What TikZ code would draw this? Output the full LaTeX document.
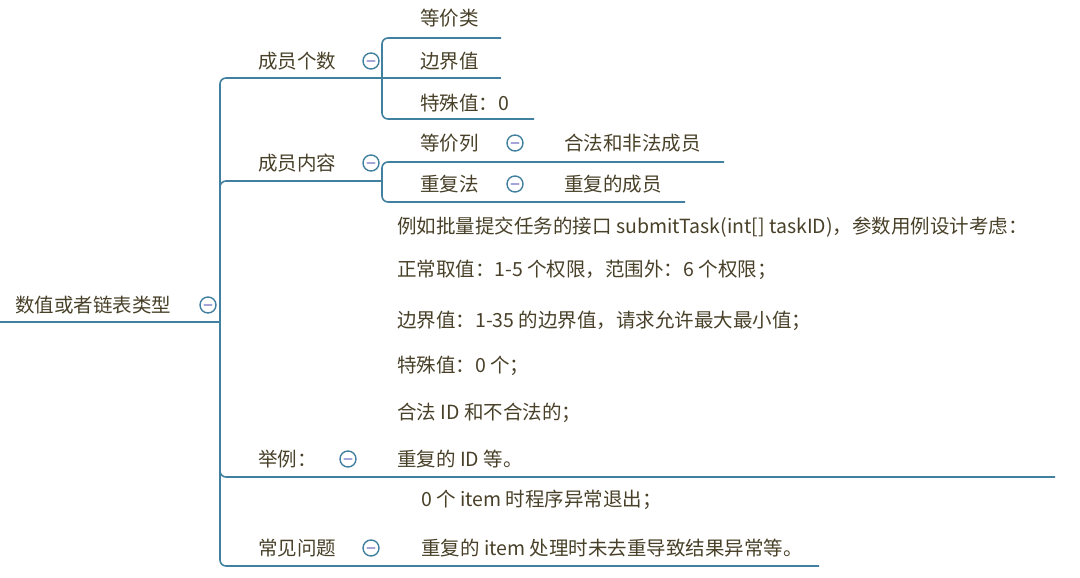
\documentclass[tikz,border=0pt]{standalone}
\usepackage{fontspec}
\setmainfont{Noto Sans CJK SC}
\usepackage{tikz}
\usetikzlibrary{positioning}
\definecolor{branchblue}{RGB}{66,128,160}
\definecolor{inkbrown}{RGB}{72,64,40}
\definecolor{minuslav}{RGB}{165,165,215}

\begin{document}
\begin{tikzpicture}[x=1pt, y=-1pt]
    \tikzstyle{topic} = [anchor=west, inner sep=0pt, text=inkbrown, font=\fontsize{19.5}{23}\selectfont]
    \tikzstyle{branch} = [draw=branchblue, line width=1.6pt, rounded corners=6pt]
    \tikzstyle{fold} = [circle, draw=branchblue, fill=white, line width=1.4pt, minimum size=16pt, inner sep=0pt,
        path picture={\draw[minuslav, line width=2.2pt, line cap=round]
            ([xshift=-3.5pt]path picture bounding box.center) -- ([xshift=3.5pt]path picture bounding box.center);}]

    \useasboundingbox (0,0) rectangle (1080,578);

    % root
    \node [topic] (root) at (15,305) {数值或者链表类型};
    \coordinate (rootstart) at (0,322);
    \coordinate (spine) at (220,322);

    % member count
    \node [topic] (count) at (258,61) {成员个数};
    \coordinate (countjoin) at (382,78);
    \node [topic] (eqclass) at (420,18) {等价类};
    \node [topic] (bound) at (420,61) {边界值};
    \node [topic] (special) at (420,103) {特殊值：0};
    \coordinate (eqclassend) at (501,38);
    \coordinate (boundend) at (501,78);
    \coordinate (specialend) at (534,119);

    % member content
    \node [topic] (content) at (258,163) {成员内容};
    \coordinate (contentjoin) at (382,181);
    \node [topic] (eqcol) at (420,143) {等价列};
    \node [topic] (legal) at (564,143) {合法和非法成员};
    \node [topic] (dup) at (420,184) {重复法};
    \node [topic] (dupmember) at (564,184) {重复的成员};
    \coordinate (eqcolend) at (724,162);
    \coordinate (dupend) at (685,202);

    % example
    \node [topic] (sample) at (258,459) {举例：};
    \node [topic] (ex1) at (397,227) {例如批量提交任务的接口 submitTask(int[] taskID)，参数用例设计考虑：};
    \node [topic] (ex2) at (397,270) {正常取值：1-5 个权限，范围外：6 个权限；};
    \node [topic] (ex3) at (397,321) {边界值：1-35 的边界值，请求允许最大最小值；};
    \node [topic] (ex4) at (397,366) {特殊值：0 个；};
    \node [topic] (ex5) at (397,413) {合法 ID 和不合法的；};
    \node [topic] (ex6) at (397,459) {重复的 ID 等。};
    \coordinate (sampleend) at (1055,477);

    % common issues
    \node [topic] (issue) at (258,548) {常见问题};
    \node [topic] (issue1) at (421,500) {0 个 item 时程序异常退出；};
    \node [topic] (issue2) at (421,548) {重复的 item 处理时未去重导致结果异常等。};
    \coordinate (issueend) at (819,566);

    \draw [branch] (rootstart) -- (spine);
    \draw [branch] (spine) |- (countjoin);
    \draw [branch] (countjoin) |- (eqclassend);
    \draw [branch] (countjoin) -- (boundend);
    \draw [branch] (countjoin) |- (specialend);
    \draw [branch] (spine) |- (contentjoin);
    \draw [branch] (contentjoin) |- (eqcolend);
    \draw [branch] (contentjoin) |- (dupend);
    \draw [branch] (spine) |- (sampleend);
    \draw [branch] (spine) |- (issueend);

    % fold markers
    \node [fold] (rootfold) at (208,305) {};
    \node [fold] (countfold) at (371,61) {};
    \node [fold] (contentfold) at (371,163) {};
    \node [fold] (eqcolfold) at (515,143) {};
    \node [fold] (dupfold) at (515,184) {};
    \node [fold] (samplefold) at (348,459) {};
    \node [fold] (issuefold) at (371,548) {};
\end{tikzpicture}
\end{document}
